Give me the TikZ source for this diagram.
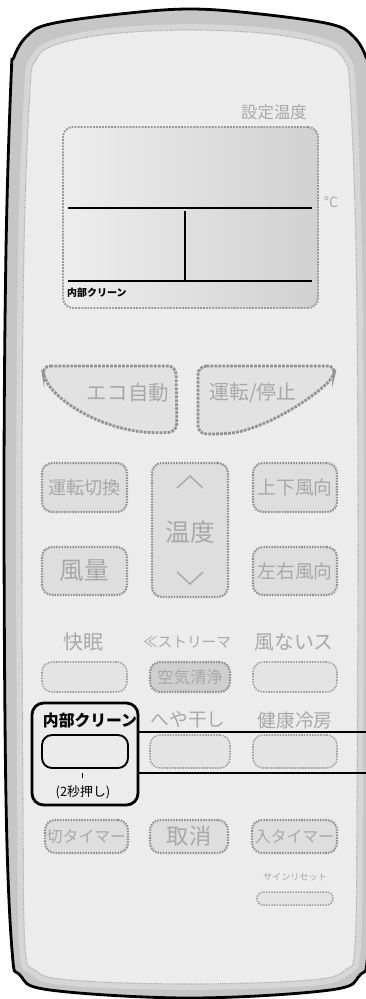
\documentclass[tikz,border=0pt]{standalone}
\usepackage{fontspec}
\setmainfont{Noto Sans CJK JP}
\usetikzlibrary{positioning}
\newcommand{\pxu}{0.03cm}
\newcommand{\fsz}[1]{\fontsize{#1}{#1}\selectfont}

\begin{document}
\begin{tikzpicture}[
    x=\pxu, y=-\pxu,
    body/.style={draw=black, line width=2.4pt, fill=gray!45},
    face/.style={draw=gray!70, line width=0.9pt, densely dotted, fill=gray!15, preaction={draw=gray!32, solid, line width=10pt}},
    key/.style={rectangle, draw=gray!75, line width=1.3pt, densely dotted, rounded corners=0.3cm, fill=gray!21, inner sep=0pt, text=gray!68},
    darkkey/.style={key, draw=gray!88, line width=1.8pt, fill=gray!26},
    bigkey/.style={draw=gray!85, line width=2.4pt, densely dotted, rounded corners=0.25cm, fill=gray!23},
    lbl/.style={text=gray!68, inner sep=0pt},
    callout/.style={black, line width=2.2pt},
]
\useasboundingbox (0,0) rectangle (366,999);
\clip (0,0) rectangle (366,999);

% === BODY ===
\draw[body] plot[smooth cycle, tension=0.6] coordinates {
  (190,9) (260,14) (330,24) (353,36) (366,57) (369,80) (374,250) (376,500)
  (374,800) (368,950) (360,975) (330,990) (190,998) (50,990) (20,975) (12,950)
  (6,800) (4,500) (6,250) (11,80) (14,57) (27,36) (50,24) (120,14)};
\draw[face] plot[smooth cycle, tension=0.6] coordinates {
  (190,30) (110,34) (55,45) (36,60) (30,90) (24,250) (22,500) (23,800)
  (25,945) (35,970) (70,980) (190,984) (310,980) (345,970) (355,945) (357,800)
  (358,500) (356,250) (350,90) (344,60) (325,45) (270,34)};

% === DISPLAY ===
\node[lbl, font=\fsz{14}] (settemp) at (274,112) {設定温度};
\node[rectangle, draw=gray!80, line width=1.6pt, densely dotted, rounded corners=0.3cm, left color=gray!14, right color=gray!36, minimum width=255*\pxu, minimum height=181*\pxu] (screen) at (190.5,217.5) {};
\draw[line width=1.8pt] (68,208) -- (312,208);
\draw[line width=1.8pt] (185,211) -- (185,281);
\draw[line width=1pt] (68,281) -- (312,281);
\node[anchor=west, inner sep=0pt, font=\fsz{8.5}\bfseries] (screenclean) at (67,293) {内部クリーン};
\node[lbl, font=\fsz{12}] (degc) at (331,202) {°C};

% === ECO / RUN ===
\draw[bigkey] (42,366) -- (176,366) -- (177,432) -- (158,433) .. controls (105,430) and (62,405) .. (44,378) -- cycle;
\node[lbl, font=\fsz{17.5}] (ecotxt) at (128,393) {エコ自動};
\draw[bigkey] (198,366) -- (336,366) -- (333,378) .. controls (300,408) and (255,432) .. (218,434) -- (198,434) -- cycle;
\node[lbl, font=\fsz{17}] (runtxt) at (253,393) {運転/停止};

% === MODE / TEMP / FAN ===
\node[darkkey, minimum width=85*\pxu, minimum height=49*\pxu, font=\fsz{15.5}] (modebtn) at (84.5,487.5) {運転切換};
\node[darkkey, minimum width=76*\pxu, minimum height=134*\pxu] (tempbtn) at (190,530) {};
\draw[gray!68, line width=1.2pt] (177,488) -- (190,476) -- (203,488);
\draw[gray!68, line width=1.2pt] (177,572) -- (190,584) -- (203,572);
\node[lbl, font=\fsz{21}] (temptxt) at (190,532) {温度};
\node[darkkey, minimum width=84*\pxu, minimum height=49*\pxu, font=\fsz{16}] (updown) at (295,487.5) {上下風向};
\node[darkkey, minimum width=85*\pxu, minimum height=48*\pxu, font=\fsz{21}] (fanbtn) at (84.5,571) {風量};
\node[darkkey, minimum width=84*\pxu, minimum height=48*\pxu, font=\fsz{16}] (leftright) at (295,571) {左右風向};

% === ROW 3 ===
\node[lbl, font=\fsz{17}] (sleeplbl) at (83,642) {快眠};
\node[lbl, font=\fsz{12.5}] (streamlbl) at (187,642) {≪ストリーマ};
\node[lbl, font=\fsz{17}] (nowindlbl) at (294,642) {風ないス};
\node[key, minimum width=85*\pxu, minimum height=30*\pxu] (sleepbtn) at (84.5,677) {};
\node[darkkey, fill=gray!38, minimum width=80*\pxu, minimum height=30*\pxu, font=\fsz{14}] (airbtn) at (190,677) {空気清浄};
\node[key, minimum width=84*\pxu, minimum height=30*\pxu] (nowindbtn) at (295,677) {};

% === ROW 4 ===
\node[inner sep=0pt, font=\fsz{13.5}\bfseries] (cleanlbl) at (90,720) {内部クリーン};
\node[lbl, font=\fsz{16}] (drylbl) at (188,720) {へや干し};
\node[lbl, font=\fsz{16}] (coollbl) at (295,720) {健康冷房};
\node[key, draw=black, solid, line width=1.6pt, fill=gray!16, minimum width=86*\pxu, minimum height=33*\pxu] (cleanbtn) at (85,751.5) {};
\node[key, minimum width=80*\pxu, minimum height=33*\pxu] (drybtn) at (190,751.5) {};
\node[key, minimum width=84*\pxu, minimum height=33*\pxu] (coolbtn) at (295,751.5) {};
\draw[black, line width=0.8pt] (82,773) -- (82,778);
\node[inner sep=0pt, font=\fsz{11}] (pushnote) at (83,792) {(2秒押し)};

% === HIGHLIGHT ===
\node[draw=black, line width=2.4pt, rounded corners=0.35cm, minimum width=106*\pxu, minimum height=102*\pxu] (cleanframe) at (85,754) {};
\coordinate (edgehi) at (366,732);
\coordinate (edgelo) at (366,773);
\draw[callout] (cleanframe.east |- edgehi) -- (edgehi);
\draw[callout] (cleanframe.east |- edgelo) -- (edgelo);

% === TIMERS ===
\node[darkkey, minimum width=83*\pxu, minimum height=33*\pxu, font=\fsz{13.5}] (offtimer) at (86.5,836.5) {切タイマー};
\node[darkkey, minimum width=78*\pxu, minimum height=33*\pxu, font=\fsz{19}] (cancelbtn) at (189,836.5) {取消};
\node[darkkey, minimum width=85*\pxu, minimum height=33*\pxu, font=\fsz{13.5}] (ontimer) at (294.5,836.5) {入タイマー};
\node[lbl, font=\fsz{7.8}] (signlbl) at (295,877) {サインリセット};
\node[key, rounded corners=0.19cm, minimum width=76*\pxu, minimum height=13*\pxu] (signbtn) at (295,898.5) {};

\end{tikzpicture}
\end{document}
